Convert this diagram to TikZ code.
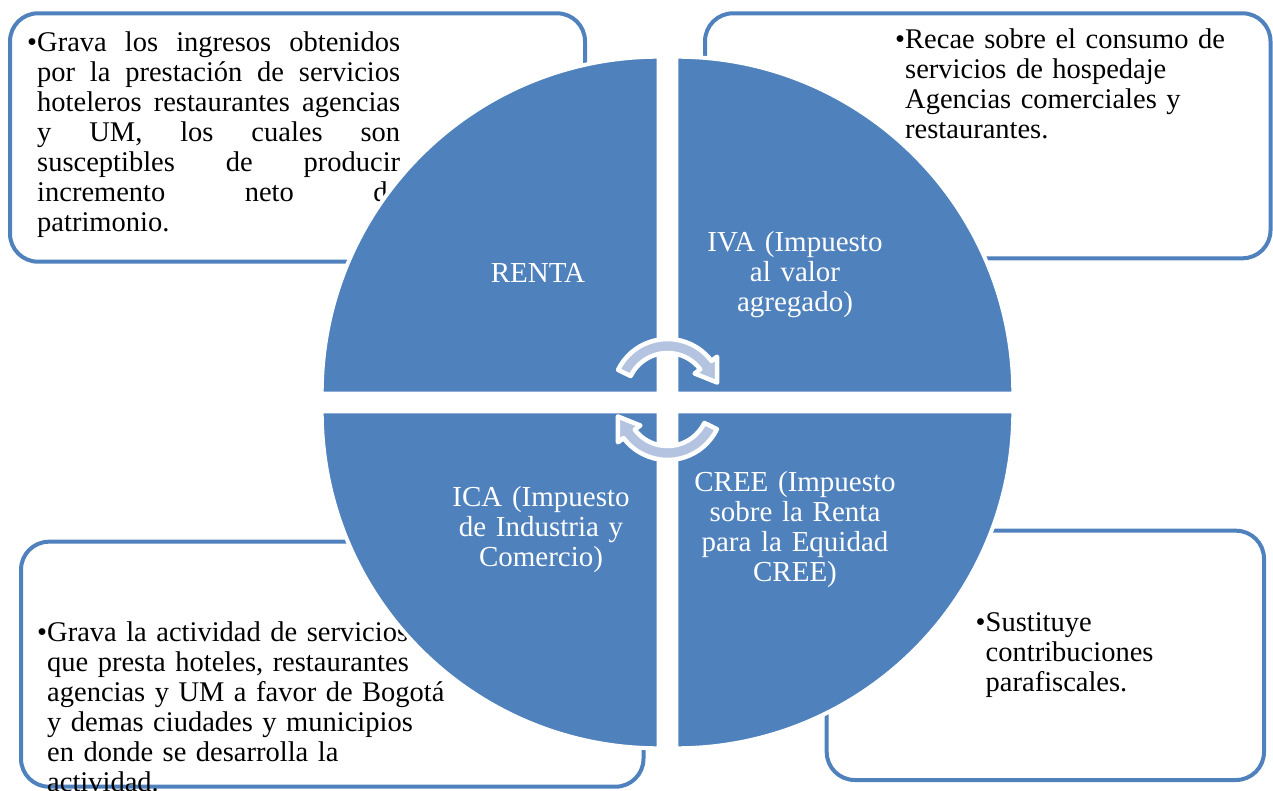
\documentclass[tikz,border=0pt]{standalone}
\usepackage{fontspec}
\setmainfont{Liberation Serif}
\definecolor{quadblue}{RGB}{79,129,189}
\definecolor{arrowblue}{RGB}{180,196,224}
\hyphenpenalty=10000

\begin{document}
\begin{tikzpicture}[x=1pt,y=-1pt,
 infobox/.style={draw=quadblue, line width=4pt, fill=white, rounded corners=28pt},
 quad/.style={fill=quadblue, draw=white, line width=4pt},
 boxtext/.style={anchor=base west, inner sep=0pt, text width=#1, align=left, font=\fontsize{28.5}{30}\selectfont},
 quadtext/.style={anchor=base, inner sep=0pt, text width=240pt, align=center, text=white, font=\fontsize{29}{30}\selectfont},
 cyclearrow/.style={fill=arrowblue, draw=white, line width=4.5pt, line join=round}]

 \useasboundingbox (0,0) rectangle (1273,791);

 % boxes behind the circle
 \draw[infobox] (10,13.3) rectangle (585,261.7);
 \draw[infobox] (705,13.3) rectangle (1270.5,258.3);
 \draw[infobox] (21,541.7) rectangle (643.5,786.7);
 \draw[infobox] (826.7,530.7) rectangle (1264,780);

 \node[boxtext=363pt, align=justify] (rentatext) at (37,51.7) {\tolerance=10000
  \leavevmode\llap{•}Grava los ingresos obtenidos\linebreak por la prestación de servicios\linebreak
  hoteleros restaurantes agencias\linebreak y UM, los cuales son\linebreak susceptibles de producir\linebreak
  incremento neto de\linebreak patrimonio.};
 \node[boxtext=360pt] (ivatext) at (905,48.3) {\leavevmode\llap{•}Recae sobre el consumo de\\ servicios de hospedaje\\ Agencias comerciales y\\ restaurantes.};
 \node[boxtext=460pt] (icatext) at (47,641.7) {\leavevmode\llap{•}Grava la actividad de servicios\\ que presta hoteles, restaurantes\\ agencias y UM a favor de Bogotá\\ y demas ciudades y municipios\\ en donde se desarrolla la\\ actividad.};
 \node[boxtext=250pt] (creetext) at (985.5,631.7) {\leavevmode\llap{•}Sustituye\\ contribuciones\\ parafiscales.};

 % the four quarters
 \coordinate (tl) at (658.7,393.7);
 \coordinate (tr) at (676.3,393.7);
 \coordinate (bl) at (658.7,411.3);
 \coordinate (br) at (676.3,411.3);

 \filldraw[quad] (tl) -- ++(-337,0) arc[start angle=180, end angle=270, radius=337] -- cycle;
 \filldraw[quad] (tr) -- ++(337,0) arc[start angle=0, end angle=-90, radius=337] -- cycle;
 \filldraw[quad] (bl) -- ++(-337,0) arc[start angle=180, end angle=90, radius=337] -- cycle;
 \filldraw[quad] (br) -- ++(337,0) arc[start angle=0, end angle=90, radius=337] -- cycle;

 \node[quadtext] (renta) at (538,282.6) {RENTA};
 \node[quadtext] (iva) at (795,251.7) {IVA (Impuesto\\ al valor\\ agregado)};
 \node[quadtext] (ica) at (541,506.7) {ICA (Impuesto\\ de Industria y\\ Comercio)};
 \node[quadtext] (cree) at (795,491.7) {CREE (Impuesto\\ sobre la Renta\\ para la Equidad\\ CREE)};

 % circular arrows
 \filldraw[cyclearrow, shift={(667.5,394)}] (206:55) arc[start angle=206, end angle=323, radius=55]
  -- (323:62) -- (347:51) -- (323:34) -- (323:41) arc[start angle=323, end angle=206, radius=41] -- cycle;
 \filldraw[cyclearrow, shift={(667.5,405)}] (26:55) arc[start angle=26, end angle=143, radius=55]
  -- (143:62) -- (167:51) -- (143:34) -- (143:41) arc[start angle=143, end angle=26, radius=41] -- cycle;

\end{tikzpicture}
\end{document}
